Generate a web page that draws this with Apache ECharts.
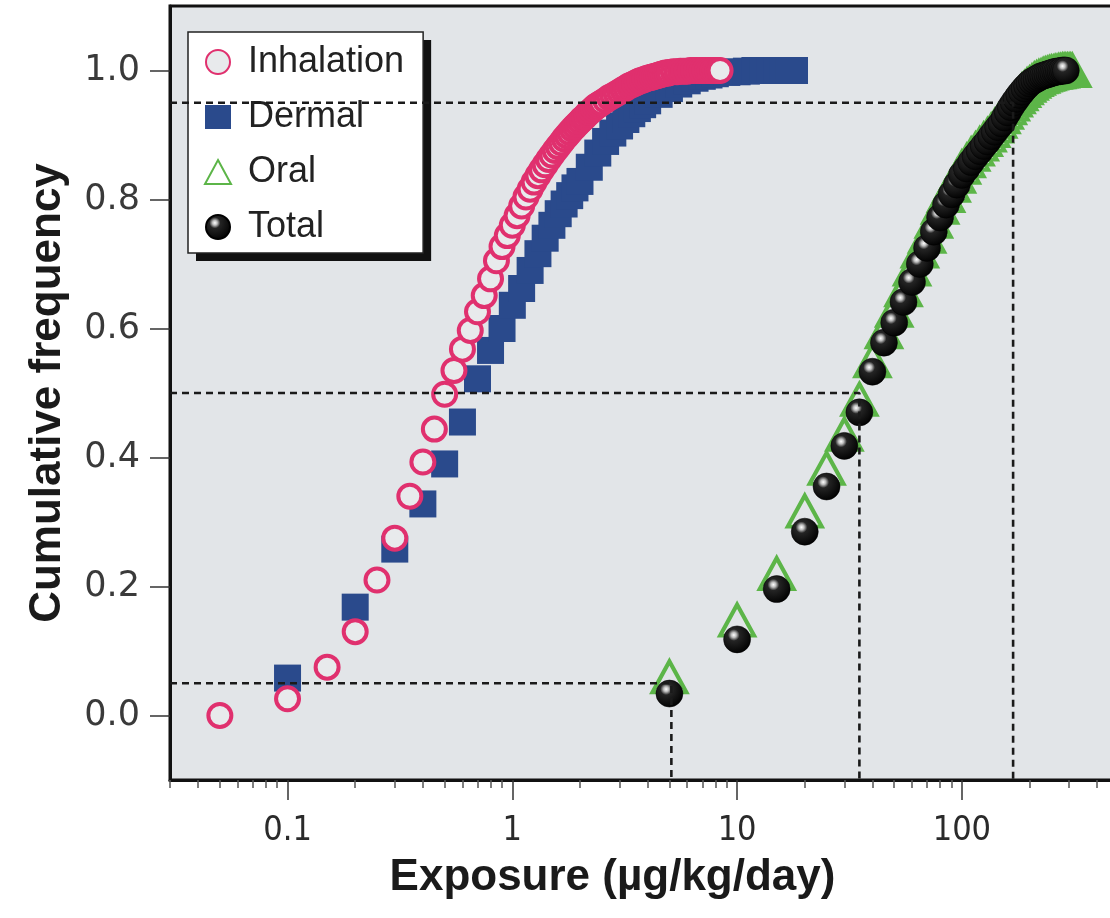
<!DOCTYPE html>
<html><head><meta charset="utf-8">
<script src="https://cdn.jsdelivr.net/npm/echarts@6/dist/echarts.min.js"></script>
<style>html,body{margin:0;padding:0;background:#fff}#c{width:1110px;height:918px}</style>
</head><body><div id="c"></div>
<script>
// ---- data ----
const inhalationX = [0.05,0.1,0.15,0.2,0.25,0.3,0.35,0.4,0.45,0.5,0.55,0.6,0.65,0.7,0.75,0.8,0.85,0.9,0.95,
  1.0,1.05,1.1,1.15,1.2,1.25,1.3,1.35,1.4,1.45,1.5,1.55,1.6,1.65,1.7,1.75,1.8,1.85,1.9,1.95,
  2.0,2.05,2.1,2.15,2.2,2.25,2.3,2.35,2.4,2.45,2.5,
  2.6,2.7,2.8,2.9,3.0,3.1,3.2,3.3,3.4,3.5,3.6,3.7,3.8,3.9,4.0,4.1,4.2,4.3,4.4,4.5,4.6,4.7,4.8,4.9,5.0,
  5.2,5.4,5.6,5.8,6.0,6.2,6.4,6.6,6.8,7.0,7.2,7.4,7.6,7.8,8.0,8.2,8.4];
const inhalationY = [0.0,0.026,0.075,0.13,0.21,0.275,0.34,0.393,0.444,0.498,0.535,0.568,0.597,0.626,0.651,0.677,0.705,0.727,0.744,
  0.76,0.775,0.79,0.804,0.816,0.827,0.837,0.846,0.854,0.862,0.869,0.876,0.882,0.888,0.894,0.899,0.904,0.909,0.913,0.917,
  0.921,0.925,0.928,0.932,0.935,0.938,0.941,0.944,0.946,0.948,0.95,
  0.954,0.958,0.961,0.964,0.967,0.97,0.973,0.976,0.978,0.98,0.982,0.984,0.985,0.987,0.988,0.989,0.99,0.991,0.992,0.993,0.994,0.995,0.996,0.996,0.997,
  0.998,0.998,0.999,0.999,0.999,1.0,1.0,1.0,1.0,1.0,1.0,1.0,1.0,1.0,1.0,1.0,1.0];

const dermalX = [0.1,0.2,0.3,0.4,0.5,0.6,0.7,0.8,0.9,1.0,1.1,1.2,1.3,1.4,1.5,1.6,1.7,1.8,1.9,2.0,2.2,2.4,2.6,2.8,3.0,3.2,3.4,3.6,3.8,4.0,4.5,5.0,5.5,6.0,6.5,7.0,7.5,8.0,9,10,11,12,13,14,15,16,17,18];
const dermalY = [0.058,0.168,0.258,0.328,0.39,0.455,0.522,0.566,0.6,0.636,0.662,0.69,0.716,0.74,0.76,0.778,0.793,0.806,0.818,0.828,0.85,0.872,0.89,0.903,0.914,0.924,0.933,0.941,0.947,0.953,0.963,0.972,0.979,0.984,0.988,0.991,0.993,0.995,0.997,0.998,0.999,1.0,1.0,1.0,1.0,1.0,1.0,1.0];

const oralX = [5,10,15,20,25,30,35,40,45,50,55,60,65,70,75,80,85,90,95,
  100,105,110,115,120,125,130,135,140,145,150,155,160,165,170,175,180,185,190,195,
  200,205,210,215,220,225,230,235,240,245,250,255,260,265,270,275,280,285,290,295,300,305,310];
const oralY = [0.06,0.148,0.22,0.317,0.383,0.436,0.49,0.55,0.595,0.628,0.66,0.692,0.72,0.743,0.766,0.788,0.806,0.822,0.836,
  0.85,0.86,0.87,0.878,0.886,0.893,0.9,0.907,0.914,0.921,0.928,0.935,0.942,0.948,0.954,0.959,0.964,0.969,0.973,0.977,
  0.98,0.983,0.986,0.988,0.99,0.991,0.993,0.994,0.995,0.996,0.997,0.997,0.998,0.998,0.999,0.999,1.0,1.0,1.0,1.0,1.0,1.0,1.0];

const totalX = [5,10,15,20,25,30,35,40,45,50,55,60,65,70,75,80,85,90,95,
  100,105,110,115,120,125,130,135,140,145,150,155,160,165,170,175,180,185,190,195,
  200,205,210,215,220,225,230,235,240,245,250,255,260,265,270,275,280,285,290];
const totalY = [0.034,0.118,0.196,0.285,0.355,0.418,0.47,0.533,0.578,0.609,0.641,0.672,0.7,0.725,0.75,0.772,0.792,0.808,0.823,
  0.838,0.848,0.858,0.867,0.875,0.883,0.89,0.898,0.905,0.912,0.918,0.927,0.935,0.943,0.95,0.956,0.962,0.967,0.972,0.976,
  0.98,0.983,0.985,0.987,0.989,0.991,0.992,0.993,0.994,0.995,0.996,0.997,0.998,0.998,0.999,0.999,1.0,1.0,1.0];

// percentile reference lines (5th, 50th, 95th of Total)
const refFreq = [0.05, 0.5, 0.95];
const refExposure = [5.1, 35, 169];

// axes
const xTickValues = [0.1, 1, 10, 100];
const xTickLabels = ['0.1', '1', '10', '100'];
const xMinorTickValues = [0.03,0.04,0.05,0.06,0.07,0.08,0.09,0.2,0.3,0.4,0.5,0.6,0.7,0.8,0.9,2,3,4,5,6,7,8,9,20,30,40,50,60,70,80,90,200,300,400,500];
const yTickValues = [0, 0.2, 0.4, 0.6, 0.8, 1.0];
const yTickLabels = ['0.0', '0.2', '0.4', '0.6', '0.8', '1.0'];
const xMin = 0.03, xMax = 500, yMin = -0.1, yMax = 1.1;
const legendNames = ['Inhalation', 'Dermal', 'Oral', 'Total'];

// ---- chart ----
const zip = (xs, ys) => xs.map((x, i) => [x, ys[i]]);
const cond = "'DejaVu Sans Condensed', 'Liberation Sans Narrow', 'Liberation Sans', sans-serif";
const sans = "'Liberation Sans', Arial, sans-serif";

const sphere = {
  type: 'radial', x: 0.38, y: 0.34, r: 0.66,
  colorStops: [
    { offset: 0, color: '#ffffff' },
    { offset: 0.14, color: '#bdbdbd' },
    { offset: 0.32, color: '#242424' },
    { offset: 1, color: '#030303' }
  ]
};

const refSeries = refFreq.map((f, i) => ({
  type: 'line', name: 'ref' + i, silent: true, z: 10,
  symbol: 'none', animation: false,
  data: [[xMin, f], [refExposure[i], f], [refExposure[i], yMin]],
  lineStyle: { color: '#1a1a1a', width: 2.6, type: [7, 5] }
}));

const legendBase = {
  orient: 'vertical', left: 188, top: 32,
  data: legendNames,
  itemWidth: 26, itemHeight: 24, itemGap: 19,
  padding: [12, 19, 8, 16],
  borderRadius: 0,
  textStyle: { fontFamily: sans, fontSize: 36, color: '#222', lineHeight: 36, padding: [0, 0, 0, 12] },
  selectedMode: false
};

const chart = echarts.init(document.getElementById('c'), null, { renderer: 'canvas' });
chart.setOption({
  animation: false,
  backgroundColor: '#ffffff',
  grid: {
    left: 170, right: -9, top: 6, bottom: 138,
    show: true, backgroundColor: '#e2e5e8', borderColor: '#111', borderWidth: 3,
    containLabel: false, outerBoundsMode: 'none'
  },
  legend: [
    Object.assign({}, legendBase, {
      backgroundColor: '#ffffff', borderWidth: 0,
      shadowColor: '#111', shadowOffsetX: 8, shadowOffsetY: 8, shadowBlur: 0
    }),
    Object.assign({}, legendBase, {
      backgroundColor: 'rgba(0,0,0,0)', borderColor: '#222', borderWidth: 1.5,
      textStyle: Object.assign({}, legendBase.textStyle, { color: 'rgba(0,0,0,0)' }),
      itemStyle: { opacity: 0 }
    })
  ],
  xAxis: [{
    type: 'log', logBase: 10, min: xMin, max: xMax, position: 'bottom',
    axisLine: { show: true, onZero: false, lineStyle: { color: '#111', width: 3 } },
    axisTick: { show: true, inside: false, length: 20, customValues: xTickValues, lineStyle: { color: '#333', width: 1.5 } },
    axisLabel: {
      customValues: xTickValues, margin: 34,
      fontFamily: cond, fontSize: 34, color: '#2a2a2a',
      formatter: v => { const i = xTickValues.findIndex(t => Math.abs(t - v) / t < 1e-6); return i >= 0 ? xTickLabels[i] : ''; }
    },
    splitLine: { show: false }, minorTick: { show: false },
    name: 'Exposure (µg/kg/day)', nameLocation: 'middle', nameGap: 76,
    nameTextStyle: { fontFamily: sans, fontWeight: 'bold', fontSize: 44, color: '#1a1a1a', padding: [0, 64, 0, 0] }
  }, {
    type: 'log', logBase: 10, min: xMin, max: xMax, position: 'bottom', gridIndex: 0,
    axisLine: { show: false, onZero: false },
    axisTick: { show: true, inside: false, length: 8, customValues: xMinorTickValues, lineStyle: { color: '#555', width: 1.5 } },
    axisLabel: { show: false }, splitLine: { show: false }
  }],
  yAxis: {
    type: 'value', min: yMin, max: yMax, interval: 0.1,
    axisLine: { show: true, onZero: false, lineStyle: { color: '#111', width: 3 } },
    axisTick: { show: true, inside: false, length: 20, customValues: yTickValues, lineStyle: { color: '#333', width: 1.5 } },
    axisLabel: {
      customValues: yTickValues, margin: 30,
      fontFamily: "'DejaVu Sans', sans-serif", fontSize: 35, color: '#3a3a3a',
      formatter: v => { const i = yTickValues.findIndex(t => Math.abs(t - v) < 1e-6); return i >= 0 ? yTickLabels[i] : ''; }
    },
    splitLine: { show: false },
    name: 'Cumulative frequency', nameLocation: 'middle', nameGap: 100,
    nameTextStyle: { fontFamily: sans, fontWeight: 'bold', fontSize: 44, color: '#1a1a1a' }
  },
  series: [
    {
      type: 'scatter', name: 'Dermal', z: 2, data: zip(dermalX, dermalY),
      symbol: 'rect', symbolSize: 27,
      itemStyle: { color: '#2a4a8c', opacity: 1 }
    },
    {
      type: 'scatter', name: 'Inhalation', z: 3, data: zip(inhalationX, inhalationY),
      symbol: 'circle', symbolSize: 23,
      itemStyle: { color: '#e8eaec', borderColor: '#e0306e', borderWidth: 4, opacity: 1 }
    },
    {
      type: 'scatter', name: 'Oral', z: 2, data: zip(oralX, oralY),
      symbol: 'triangle', symbolSize: [34, 31],
      itemStyle: { color: 'rgba(0,0,0,0)', borderColor: '#5cb548', borderWidth: 4, opacity: 1 }
    },
    {
      type: 'scatter', name: 'Total', z: 3, data: zip(totalX, totalY),
      symbol: 'circle', symbolSize: 27,
      itemStyle: { color: sphere, borderColor: '#000', borderWidth: 0.5, opacity: 1 }
    },
    ...refSeries
  ]
});
</script></body></html>
